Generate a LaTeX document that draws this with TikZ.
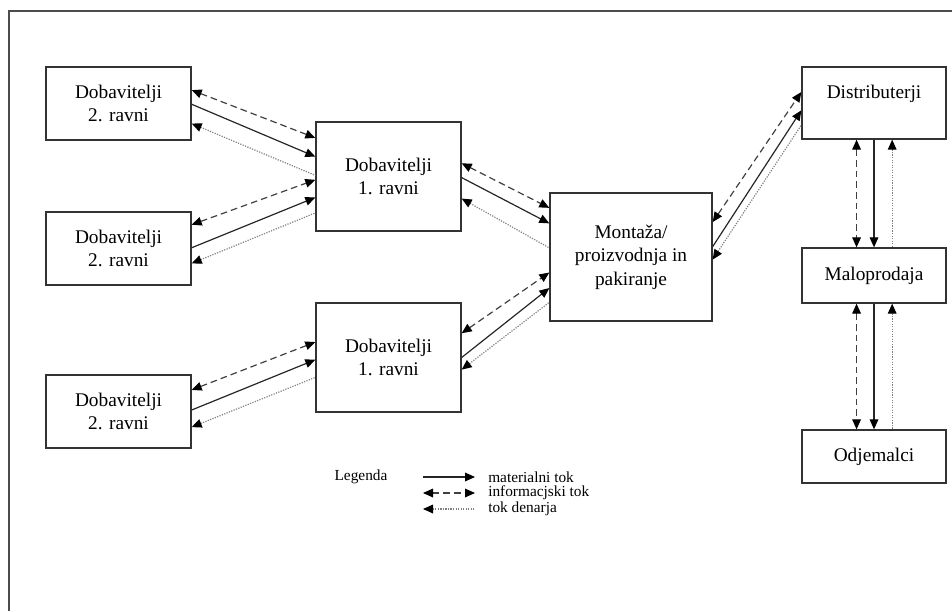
\documentclass[tikz,border=0pt]{standalone}
\usepackage{fontspec}
\setmainfont{Liberation Serif}
\usetikzlibrary{arrows.meta, positioning, calc}

\begin{document}
\begin{tikzpicture}[
    x=0.75pt, y=-0.75pt,
    on grid,
    >={Triangle[length=7.5pt, width=6.5pt, color=black]},
    box/.style={draw=black!80, line width=1pt, align=center, inner sep=0pt,
        font=\fontsize{14.5}{17.5}\selectfont},
    dobtwo/.style={box, minimum width=108.75pt, minimum height=54.75pt},
    dobone/.style={box, minimum width=108.75pt, minimum height=81.75pt},
    chain/.style={box, minimum width=108pt},
    matflow/.style={line width=0.9pt, draw=black!85, ->},
    infoflow/.style={line width=0.9pt, draw=black!75, dash pattern=on 5pt off 3pt, <->},
    cashflow/.style={line width=0.9pt, draw=black!50, densely dotted, <-},
    legtext/.style={font=\fontsize{11.5}{13}\selectfont, inner sep=0pt}
]
    \useasboundingbox (0,0) rectangle (952,611);

    % Frame
    \draw[black!70, line width=0.8pt] (9,611) -- (9,11) -- (952,11);

    % Suppliers
    \node[dobtwo] (a) at (118.5,103.5) {Dobavitelji\\2. ravni};
    \node[dobtwo] (b) [below=108.75pt of a] {Dobavitelji\\2. ravni};
    \node[dobtwo] (c) [below=122.25pt of b] {Dobavitelji\\2. ravni};
    \node[dobone] (u) at (388.5,176.5) {Dobavitelji\\1. ravni};
    \node[dobone] (l) [below=135.75pt of u] {Dobavitelji\\1. ravni};

    % Production and market
    \node[box, minimum width=121.5pt, minimum height=96pt] (m) at (631,257)
        {Montaža/\\proizvodnja in\\pakiranje};
    \node[chain, minimum height=54pt] (dist) at (874,103) {Distributerji\\\mbox{}};
    \node[chain, minimum height=41.25pt] (malo) [below=129.375pt of dist] {Maloprodaja};
    \node[chain, minimum height=39.75pt] (odj) [below=135.75pt of malo] {Odjemalci};

    % Flows left to right
    \foreach \s/\t/\i/\j/\p/\q/\u/\v in {
        a/u/.32/.15/.51/.32/.77/.49,
        b/u/.18/.53/.49/.69/.70/.83,
        c/l/.21/.36/.48/.52/.71/.68,
        u/m/.38/.12/.51/.24/.70/.43,
        l/m/.28/.62/.50/.74/.61/.85,
        m/dist/.23/.35/.42/.60/.52/.80}
    {
        \draw[infoflow] ($(\s.north east)!\i!(\s.south east)$) -- ($(\t.north west)!\j!(\t.south west)$);
        \draw[matflow] ($(\s.north east)!\p!(\s.south east)$) -- ($(\t.north west)!\q!(\t.south west)$);
        \draw[cashflow] ($(\s.north east)!\u!(\s.south east)$) -- ($(\t.north west)!\v!(\t.south west)$);
    }

    % Flows top to bottom
    \foreach \s/\t in {dist/malo, malo/odj}
    {
        \draw[infoflow] ($(\s.south west)!.38!(\s.south east)$) -- ($(\t.north west)!.38!(\t.north east)$);
        \draw[matflow] ($(\s.south west)!.5!(\s.south east)$) -- ($(\t.north west)!.5!(\t.north east)$);
        \draw[cashflow] ($(\s.south west)!.625!(\s.south east)$) -- ($(\t.north west)!.625!(\t.north east)$);
    }

    % Legend
    \node[legtext] (leg) at (361,477) {Legenda};
    \coordinate (k1) at (423,477);
    \coordinate (k2) at (423,493);
    \coordinate (k3) at (423,509);
    \node[legtext, anchor=west] (t1) at (488,477) {materialni tok};
    \node[legtext, anchor=west] (t2) at (488,493) {informacjski tok};
    \node[legtext, anchor=west] (t3) at (488,509) {tok denarja};
    \draw[matflow] (k1) -- (k1 -| 475,0);
    \draw[infoflow] (k2) -- (k2 -| 475,0);
    \draw[cashflow] (k3) -- (k3 -| 475,0);
\end{tikzpicture}
\end{document}
